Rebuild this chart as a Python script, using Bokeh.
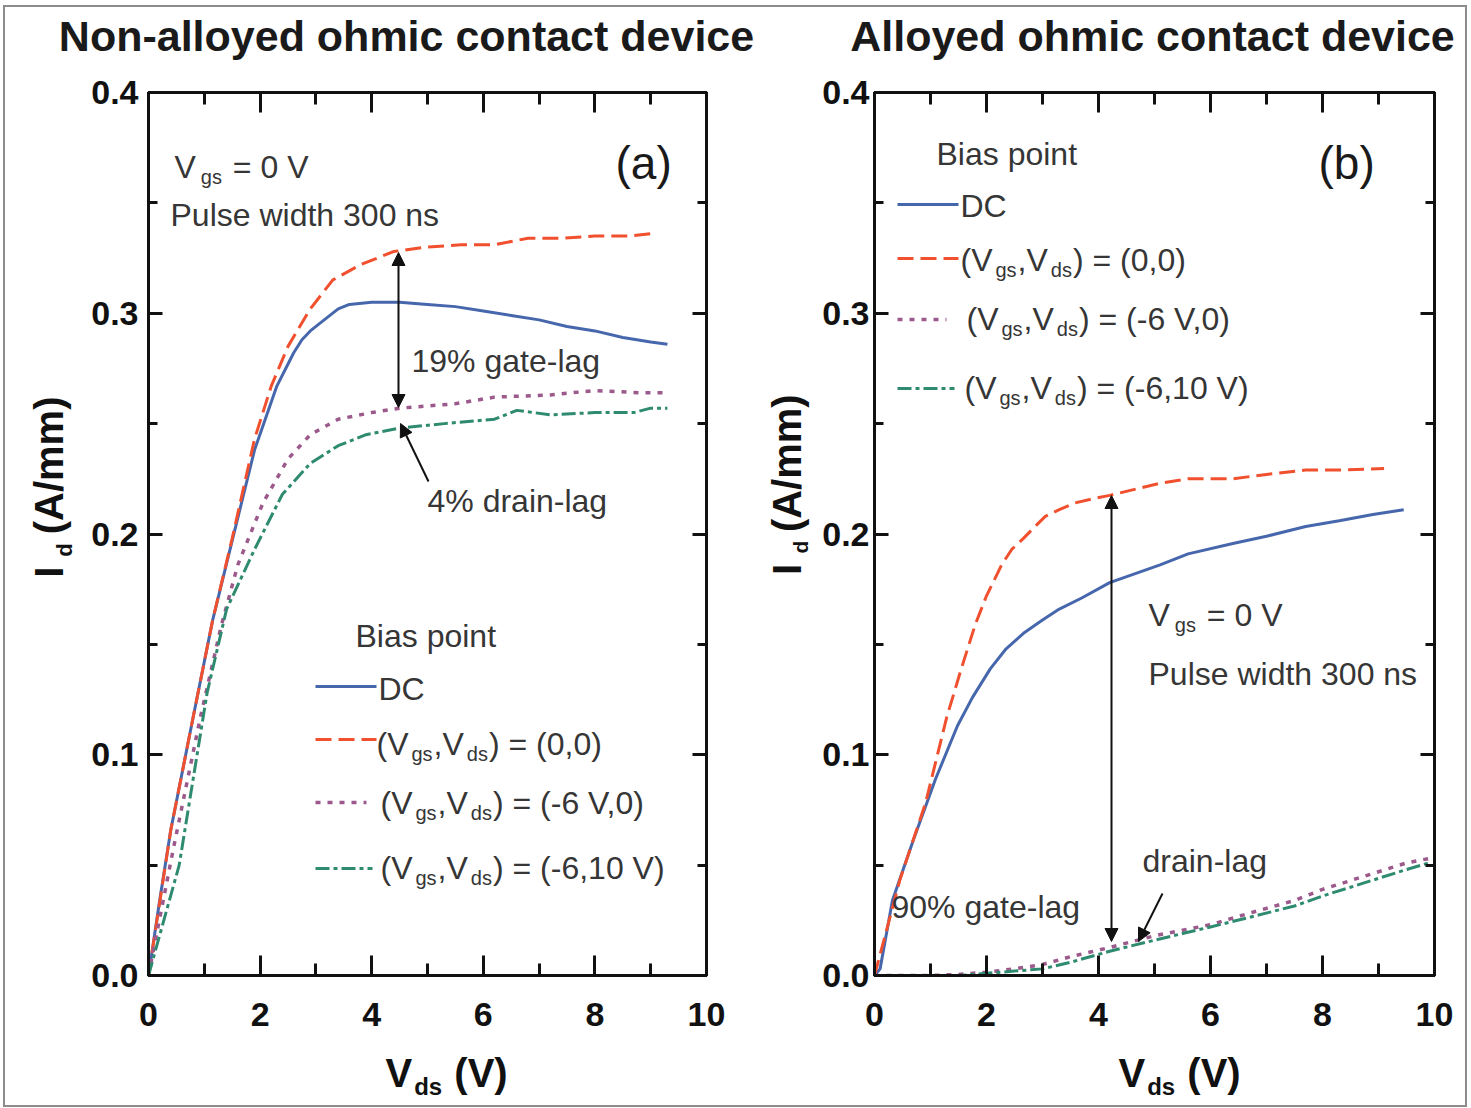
import math
from bokeh.plotting import figure
from bokeh.models import (Range1d, LinearAxis, SingleIntervalTicker, Label, Arrow,
                          NormalHead, CustomJSTickFormatter, NumeralTickFormatter)
from bokeh.layouts import row, column
from bokeh.embed import file_html
from bokeh.resources import INLINE

# ---------------- data ----------------
# panel (a) non-alloyed
a_dc_x = [0, 0.2, 0.4, 0.8, 1.15, 1.5, 1.9, 2.3, 2.6, 2.75, 2.9, 3.2, 3.4, 3.6, 4.0, 4.5, 5.0, 5.5, 6.0, 6.5, 7.0, 7.5, 8.0, 8.5, 9.0, 9.3]
a_dc_y = [0, 0.034, 0.066, 0.117, 0.161, 0.197, 0.238, 0.267, 0.282, 0.288, 0.292, 0.298, 0.302, 0.304, 0.305, 0.305, 0.304, 0.303, 0.301, 0.299, 0.297, 0.294, 0.292, 0.289, 0.287, 0.286]
a_00_x = [0, 0.4, 0.8, 1.15, 1.5, 1.9, 2.2, 2.5, 2.9, 3.3, 3.8, 4.4, 5.0, 5.6, 6.2, 6.8, 7.4, 8.0, 8.6, 9.0]
a_00_y = [0, 0.066, 0.117, 0.161, 0.198, 0.243, 0.267, 0.285, 0.302, 0.315, 0.322, 0.328, 0.330, 0.331, 0.331, 0.334, 0.334, 0.335, 0.335, 0.336]
a_60_x = [0, 0.45, 0.93, 1.3, 1.6, 2.05, 2.5, 2.9, 3.4, 4.0, 4.5, 5.0, 5.5, 6.2, 7.2, 8.0, 8.8, 9.3]
a_60_y = [0, 0.058, 0.117, 0.158, 0.186, 0.214, 0.234, 0.245, 0.252, 0.255, 0.257, 0.258, 0.259, 0.262, 0.263, 0.265, 0.264, 0.264]
a_610_x = [0, 0.55, 1.05, 1.4, 1.9, 2.4, 2.9, 3.4, 3.9, 4.5, 5.3, 6.2, 6.6, 7.2, 8.0, 8.7, 9.0, 9.3]
a_610_y = [0, 0.05, 0.128, 0.166, 0.193, 0.218, 0.232, 0.240, 0.245, 0.248, 0.250, 0.252, 0.256, 0.254, 0.255, 0.255, 0.257, 0.257]

# panel (b) alloyed
b_dc_x = [0, 0.1, 0.32, 0.71, 1.09, 1.48, 1.75, 2.07, 2.35, 2.66, 3.0, 3.3, 3.7, 4.2, 5.1, 5.6, 6.4, 7.0, 7.7, 8.3, 8.9, 9.45]
b_dc_y = [0, 0.003, 0.034, 0.0625, 0.089, 0.113, 0.126, 0.139, 0.148, 0.155, 0.161, 0.166, 0.171, 0.178, 0.186, 0.191, 0.1957, 0.199, 0.2034, 0.206, 0.2088, 0.211]
b_00_x = [0, 0.45, 0.91, 1.29, 1.55, 1.8, 2.0, 2.27, 2.45, 2.66, 2.85, 3.05, 3.3, 3.57, 3.9, 4.2, 5.1, 5.6, 6.4, 7.0, 7.7, 8.4, 9.1]
b_00_y = [0, 0.043, 0.078, 0.117, 0.139, 0.159, 0.172, 0.186, 0.193, 0.198, 0.203, 0.208, 0.211, 0.214, 0.216, 0.2175, 0.223, 0.225, 0.225, 0.227, 0.229, 0.229, 0.2297]
b_60_x = [0, 0.5, 1.0, 1.5, 2.0, 2.5, 3.0, 3.5, 4.2, 5.0, 5.5, 6.0, 6.8, 7.5, 8.0, 8.5, 9.0, 9.5, 9.9]
b_60_y = [0, 0, 0, 0.0005, 0.0015, 0.003, 0.005, 0.0085, 0.0127, 0.018, 0.0205, 0.023, 0.029, 0.034, 0.039, 0.043, 0.047, 0.051, 0.053]
b_610_x = [0, 1.0, 1.5, 2.0, 2.5, 3.0, 3.5, 4.2, 5.0, 5.5, 6.0, 6.8, 7.5, 8.0, 8.5, 9.0, 9.5, 9.9]
b_610_y = [0, 0, 0, 0.001, 0.002, 0.003, 0.006, 0.011, 0.016, 0.019, 0.022, 0.027, 0.0315, 0.036, 0.040, 0.044, 0.048, 0.051]

x_tick_interval = 2
y_tick_interval = 0.1
titles = ["Non-alloyed ohmic contact device", "Alloyed ohmic contact device"]
panel_tags = ["(a)", "(b)"]

# ---------------- styles / layout constants (page pixels) ----------------
FONT = "Liberation Sans"
TXT = "#363636"
DARK = "#111111"
C_DC = "#4767ad"
C_00 = "#f1502f"
C_60 = "#9c5a8c"
C_610 = "#2f8b70"
LW = 3
DASH_00 = "16 7"
DASH_60 = "5 7"
DASH_610 = "14 4 4 4"

OX, OY = 5, 7              # content origin on the page (margin + border)
X_END, Y_END = 1465, 1105   # content end
ROW_TOP, ROW_BOT = 70, 1040
FRAME_TOP = 92
FRAME_BOTTOM = 975
PPY = (FRAME_BOTTOM - FRAME_TOP) / 0.4
SB_RIGHT = 818

K_BASE = 0.365   # label anchor sits this many em above the drawn baseline
K_ALONG = 0.55   # rotated labels drift this many em along the text direction

AR = {' ': 278, '(': 333, ')': 333, ',': 278, '-': 333, '=': 584, '%': 889, 'V': 667, 'D': 722,
      'C': 722, 'B': 667, 'P': 667, 'a': 556, 'b': 556, 'c': 500, 'd': 556, 'e': 556, 'g': 556,
      'h': 556, 'i': 222, 'l': 222, 'n': 556, 'o': 556, 'p': 556, 'r': 333, 's': 500, 't': 278,
      'u': 556, 'w': 722, 'I': 278, 'A': 667, 'm': 833, '/': 278}
AB = {' ': 278, '(': 333, ')': 333, 'V': 667, 'd': 611, 's': 556, 'A': 722, '/': 278, 'm': 889, 'I': 278}


def tw(s, size, bold=False):
    tbl = AB if bold else AR
    return sum(tbl.get(ch, 556) for ch in s) * size / 1000.0


def style_axis(ax, tin, tmin, labels=True, standoff=0):
    ax.major_tick_in = tin
    ax.major_tick_out = 0
    ax.minor_tick_in = tmin
    ax.minor_tick_out = 0
    ax.axis_line_width = 3
    ax.major_tick_line_width = 3
    ax.minor_tick_line_width = 3
    ax.axis_line_color = DARK
    ax.major_tick_line_color = DARK
    ax.minor_tick_line_color = DARK
    ax.major_label_text_font = FONT
    ax.major_label_text_font_size = "34px"
    ax.major_label_text_font_style = "bold"
    ax.major_label_text_color = DARK
    ax.major_label_standoff = standoff
    if not labels:
        ax.formatter = CustomJSTickFormatter(code="return ''")


def make_panel(canvas_left, frame_left, frame_w, canvas_right, ystandoff):
    p = figure(output_backend="svg", toolbar_location=None, title=None,
               frame_width=frame_w, frame_height=FRAME_BOTTOM - FRAME_TOP,
               x_range=Range1d(0, 10), y_range=Range1d(0, 0.4),
               min_border_left=frame_left - canvas_left,
               min_border_right=canvas_right - (frame_left + frame_w),
               min_border_top=FRAME_TOP - ROW_TOP, min_border_bottom=ROW_BOT - FRAME_BOTTOM,
               x_axis_location=None, y_axis_location=None)
    p.grid.visible = False
    p.outline_line_color = DARK
    p.outline_line_width = 3
    p.background_fill_color = "white"
    p.border_fill_color = "white"
    xb = LinearAxis(ticker=SingleIntervalTicker(interval=x_tick_interval, num_minor_ticks=2))
    style_axis(xb, 20, 12, True, 27)
    p.add_layout(xb, "below")
    xt = LinearAxis(ticker=SingleIntervalTicker(interval=x_tick_interval, num_minor_ticks=2))
    style_axis(xt, 20, 12, False, 0)
    p.add_layout(xt, "above")
    yl = LinearAxis(ticker=SingleIntervalTicker(interval=y_tick_interval, num_minor_ticks=2),
                    formatter=NumeralTickFormatter(format="0.0"))
    style_axis(yl, 14, 9, True, ystandoff)
    p.add_layout(yl, "left")
    yr = LinearAxis(ticker=SingleIntervalTicker(interval=y_tick_interval, num_minor_ticks=2))
    style_axis(yr, 14, 9, False, 0)
    p.add_layout(yr, "right")
    return p


def make_strip(x0, x1, y0, y1):
    f = figure(output_backend="svg", toolbar_location=None, title=None,
               width=x1 - x0, height=y1 - y0, min_border=0,
               x_range=Range1d(x0, x1), y_range=Range1d(y1, y0),
               x_axis_location=None, y_axis_location=None)
    f.grid.visible = False
    f.outline_line_color = None
    f.background_fill_color = "white"
    f.border_fill_color = "white"
    return f


class Writer:
    """Places text given page-pixel positions (baseline) on a figure."""
    def __init__(self, p, fx=None):
        self.p = p
        self.fx = fx  # (frame_left, px_per_unit) or None for strips (identity)

    def d(self, px, py):
        if self.fx is None:
            return px, py
        left, ppx = self.fx
        return (px - left) / ppx, (FRAME_BOTTOM - py) / PPY

    def label(self, px, py, text, size=32, bold=False, color=TXT, align="left", rotated=False):
        if rotated:
            ax_, ay_ = px - K_BASE * size, py + K_ALONG * size
            angle = math.pi / 2
        else:
            ax_, ay_ = px, py - K_BASE * size
            angle = 0.0
        x, y = self.d(ax_, ay_)
        self.p.add_layout(Label(x=x, y=y, text=text, text_font=FONT, text_font_size=f"{size}px",
                                text_font_style="bold" if bold else "normal", text_color=color,
                                text_align=align, text_baseline="alphabetic", angle=angle))

    def rich(self, px, py, pieces, size=32, sub=20, bold=False, color=TXT, gap_b=3, gap_a=1, drop=6):
        x = px
        for txt, kind in pieces:
            fs = sub if kind == "s" else size
            if kind == "s":
                x += gap_b
            lead = len(txt) - len(txt.lstrip(" "))
            x += tw(" " * lead, fs, bold)
            body = txt.lstrip(" ")
            self.label(x, py + (drop if kind == "s" else 0), body, size=fs, bold=bold, color=color)
            x += tw(body, fs, bold)
            if kind == "s":
                x += gap_a

    def rich_up(self, px, py, pieces, size=40, sub=22, bold=True, color=DARK, gap_b=2, gap_a=1, drop=9):
        y = py
        for txt, kind in pieces:
            fs = sub if kind == "s" else size
            if kind == "s":
                y -= gap_b
            lead = len(txt) - len(txt.lstrip(" "))
            y -= tw(" " * lead, fs, bold)
            body = txt.lstrip(" ")
            self.label(px + (drop if kind == "s" else 0), y, body, size=fs, bold=bold, color=color,
                       rotated=True)
            y -= tw(body, fs, bold)
            if kind == "s":
                y -= gap_a

    def key(self, x0, x1, py, color, dash, width=LW):
        (dx0, dy), (dx1, _) = self.d(x0, py), self.d(x1, py)
        self.p.line([dx0, dx1], [dy, dy], line_color=color, line_width=width, line_dash=dash)

    def arrow(self, p0, p1, both=False):
        x0, y0 = self.d(*p0)
        x1, y1 = self.d(*p1)
        head = lambda: NormalHead(size=13, fill_color=DARK, line_color=DARK, line_width=1)
        self.p.add_layout(Arrow(x_start=x0, y_start=y0, x_end=x1, y_end=y1,
                                start=head() if both else None, end=head(),
                                line_color=DARK, line_width=2))


def vg(rest):
    return [("(V", "n"), ("gs", "s"), (",V", "n"), ("ds", "s"), (rest, "n")]


# ---------------- strips for titles / axis labels ----------------
top = make_strip(OX, X_END, OY, ROW_TOP)
bottom = make_strip(OX, X_END, ROW_BOT, Y_END)
sa = make_strip(OX, 82, ROW_TOP, ROW_BOT)
sb = make_strip(740, SB_RIGHT, ROW_TOP, ROW_BOT)
T, Bo, SA, SB = Writer(top), Writer(bottom), Writer(sa), Writer(sb)

T.label(406, 51, titles[0], size=43, bold=True, color="#1a1a1a", align="center")
T.label(1152, 51, titles[1], size=43, bold=True, color="#1a1a1a", align="center")
Bo.rich(385, 1087, [("V", "n"), ("ds", "s"), (" (V)", "n")], size=40, sub=24, bold=True,
        color=DARK, gap_b=2, gap_a=1, drop=8)
Bo.rich(1118, 1087, [("V", "n"), ("ds", "s"), (" (V)", "n")], size=40, sub=24, bold=True,
        color=DARK, gap_b=2, gap_a=1, drop=8)
SA.rich_up(63, 581, [("I", "n"), ("d", "s"), (" (A/mm)", "n")], gap_a=10)
SB.rich_up(801, 578, [("I", "n"), ("d", "s"), (" (A/mm)", "n")], sub=21, drop=7, gap_a=10)

# ---------------- panel (a) ----------------
pa = make_panel(82, 148, 558, 740, 10)
A = Writer(pa, (148, 55.8))
pa.line(a_dc_x, a_dc_y, line_color=C_DC, line_width=LW)
pa.line(a_00_x, a_00_y, line_color=C_00, line_width=LW, line_dash=DASH_00)
pa.line(a_60_x, a_60_y, line_color=C_60, line_width=3.5, line_dash=DASH_60)
pa.line(a_610_x, a_610_y, line_color=C_610, line_width=LW, line_dash=DASH_610)

A.label(615, 179, panel_tags[0], size=46, color="#1a1a1a")
A.rich(174, 178, [("V", "n"), ("gs", "s"), (" = 0 V", "n")], gap_b=5, gap_a=2)
A.label(170, 226, "Pulse width 300 ns")
A.label(411, 372, "19% gate-lag")
A.label(427, 512, "4% drain-lag")
A.arrow((398, 407), (398, 252), both=True)
A.arrow((428, 481), (400, 423))

A.label(355, 647, "Bias point")
A.key(315, 376, 686, C_DC, "solid")
A.label(378, 700, "DC")
A.key(315, 376, 739, C_00, DASH_00)
A.rich(376, 755, vg(") = (0,0)"))
A.key(315, 366, 802, C_60, DASH_60, 3.5)
A.rich(380, 814, vg(") = (-6 V,0)"))
A.key(315, 372, 868, C_610, DASH_610)
A.rich(380, 879, vg(") = (-6,10 V)"))

# ---------------- panel (b) ----------------
pb = make_panel(SB_RIGHT, 874, 560, X_END, 5)
B = Writer(pb, (874, 56.0))
pb.line(b_dc_x, b_dc_y, line_color=C_DC, line_width=LW)
pb.line(b_00_x, b_00_y, line_color=C_00, line_width=LW, line_dash=DASH_00)
pb.line(b_60_x, b_60_y, line_color=C_60, line_width=3.5, line_dash=DASH_60)
pb.line(b_610_x, b_610_y, line_color=C_610, line_width=LW, line_dash=DASH_610)

B.label(1318, 179, panel_tags[1], size=46, color="#1a1a1a")
B.label(936, 165, "Bias point")
B.key(897, 958, 204, C_DC, "solid")
B.label(960, 217, "DC")
B.key(897, 958, 258, C_00, DASH_00)
B.rich(960, 271, vg(") = (0,0)"))
B.key(897, 946, 319, C_60, DASH_60, 3.5)
B.rich(966, 330, vg(") = (-6 V,0)"))
B.key(897, 954, 388, C_610, DASH_610)
B.rich(964, 399, vg(") = (-6,10 V)"))

B.rich(1148, 626, [("V", "n"), ("gs", "s"), (" = 0 V", "n")], gap_b=5, gap_a=2)
B.label(1148, 685, "Pulse width 300 ns")
B.label(1142, 872, "drain-lag")
B.label(891, 918, "90% gate-lag")
B.arrow((1111, 941), (1111, 495), both=True)
B.arrow((1162, 893), (1138, 941))

layout = column(top, row(sa, pa, sb, pb), bottom,
                styles={"border": "2px solid #8c8c8c", "margin-left": "3px", "margin-top": "5px"})
open("out.html", "w").write(file_html(layout, INLINE))
